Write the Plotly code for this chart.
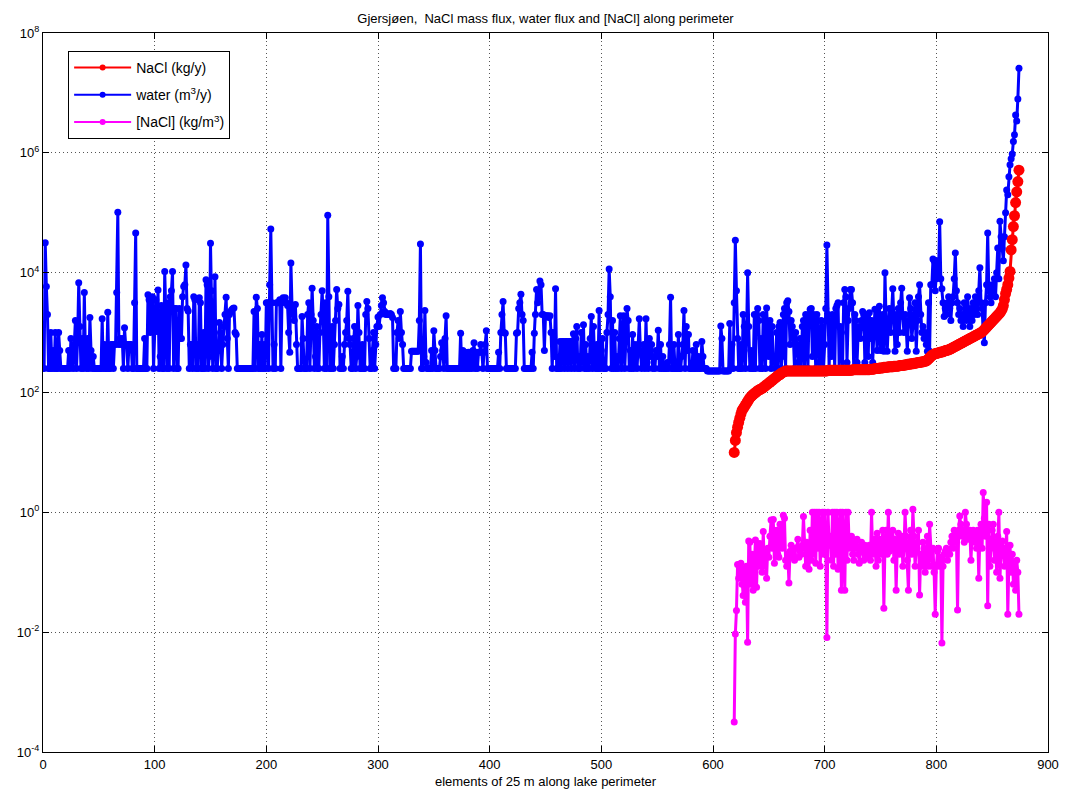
import plotly.graph_objects as go

# ---------------- data (log10 values) ----------------
water_log10 = [
    2.4, 4.5, 3.77, 3.3, 2.4, 2.4, 3.0, 2.4, 2.7, 2.4,
    3.0, 2.4, 2.4, 3.0, 2.7, 2.4, 2.4, 2.4, 2.4, 2.4,
    2.4, 2.4, 2.7, 2.4, 2.9, 2.7, 2.4, 2.8, 3.2, 2.4,
    2.9, 3.83, 3.1, 2.4, 2.9, 2.4, 3.67, 2.6, 2.4, 2.9,
    2.4, 3.25, 2.7, 2.4, 2.6, 2.4, 2.4, 2.4, 2.4, 2.4,
    2.4, 2.4, 3.23, 2.4, 2.8, 2.4, 2.4, 3.34, 2.4, 2.4,
    2.8, 2.8, 2.4, 2.8, 2.8, 3.67, 5.01, 2.8, 2.9, 2.8,
    2.9, 2.4, 3.08, 2.8, 2.8, 2.4, 2.8, 2.8, 2.8, 2.4,
    2.4, 3.5, 4.66, 2.4, 2.4, 2.4, 2.4, 2.4, 2.4, 2.4,
    2.9, 2.4, 2.4, 3.63, 3.55, 3.0, 3.5, 3.6, 2.4, 3.1,
    3.55, 3.02, 3.71, 2.4, 2.6, 3.45, 2.4, 2.4, 4.02, 3.3,
    2.4, 3.5, 2.4, 3.6, 3.7, 4.02, 2.4, 3.4, 3.4, 2.4,
    2.4, 3.4, 2.9, 2.9, 3.6, 3.77, 3.8, 4.13, 3.4, 3.36,
    2.4, 2.8, 2.8, 2.4, 3.6, 3.55, 2.4, 2.8, 2.4, 3.58,
    3.5, 2.4, 2.4, 3.0, 2.4, 3.88, 3.8, 2.4, 2.6, 4.49,
    3.7, 2.4, 3.0, 3.93, 2.4, 2.4, 2.7, 3.17, 3.0, 2.4,
    2.8, 3.1, 3.3, 3.59, 2.9, 2.4, 3.3, 3.35, 3.38, 3.4,
    3.41, 3.0, 2.97, 2.4, 2.4, 2.4, 2.4, 2.4, 2.4, 2.4,
    2.4, 2.4, 2.4, 2.4, 2.4, 2.4, 2.4, 2.4, 3.35, 2.4,
    3.59, 3.4, 2.4, 2.8, 2.4, 2.97, 2.4, 2.8, 2.4, 3.5,
    3.5, 2.4, 3.8, 4.73, 3.5, 2.4, 2.8, 2.4, 3.5, 3.5,
    3.5, 3.55, 2.4, 3.5, 3.58, 3.55, 3.58, 3.5, 3.45, 3.0,
    2.67, 4.16, 3.45, 3.3, 3.2, 3.47, 2.8, 2.4, 2.4, 2.4,
    2.4, 3.27, 2.9, 2.4, 2.4, 2.4, 3.3, 3.5, 2.4, 3.3,
    3.74, 3.2, 2.4, 2.6, 3.1, 2.4, 2.4, 3.0, 3.3, 3.7,
    3.2, 2.4, 3.5, 2.4, 4.96, 3.6, 2.4, 2.4, 3.1, 2.4,
    2.8, 3.2, 3.72, 3.4, 3.47, 2.4, 2.4, 2.6, 2.4, 2.8,
    3.0, 3.2, 3.69, 2.9, 2.8, 2.4, 2.4, 2.9, 3.1, 2.4,
    2.6, 3.45, 3.0, 2.4, 2.4, 2.8, 2.4, 2.4, 3.3, 3.52,
    3.4, 2.9, 2.4, 2.4, 2.7, 3.0, 2.4, 2.8, 3.1, 3.26,
    3.1, 3.3, 3.45, 3.58, 3.5, 3.35, 3.3, 3.32, 3.3, 3.3,
    3.32, 3.3, 3.25, 2.4, 2.4, 2.4, 3.0, 3.2, 2.9, 3.35,
    3.0, 2.8, 2.4, 2.4, 2.4, 2.4, 2.4, 2.4, 2.4, 2.69,
    2.69, 2.69, 2.69, 2.69, 2.69, 2.69, 3.2, 4.48, 2.4, 2.4,
    2.6, 3.37, 2.5, 2.4, 2.4, 2.4, 2.4, 2.7, 2.4, 3.03,
    2.7, 2.4, 2.4, 2.4, 2.4, 2.6, 2.83, 2.7, 2.4, 2.9,
    3.28, 2.4, 2.4, 2.4, 2.4, 2.4, 2.4, 2.4, 2.4, 2.4,
    2.4, 2.4, 2.4, 2.99, 2.4, 2.7, 2.4, 2.67, 2.4, 2.4,
    2.67, 2.4, 2.6, 2.4, 2.7, 2.83, 2.4, 2.67, 2.4, 2.67,
    2.67, 2.8, 2.67, 2.4, 2.67, 2.8, 3.03, 2.4, 2.4, 2.4,
    2.4, 2.4, 2.4, 2.4, 2.4, 2.4, 2.4, 2.67, 2.4, 3.0,
    3.3, 3.52, 3.0, 2.99, 2.4, 2.4, 2.4, 2.4, 2.4, 2.4,
    2.4, 2.4, 2.4, 2.99, 3.0, 3.4, 3.5, 3.64, 3.3, 3.2,
    2.4, 2.4, 2.4, 2.4, 2.4, 2.4, 2.4, 2.67, 2.4, 2.99,
    3.3, 3.72, 3.5, 3.6, 3.86, 3.8, 3.3, 3.3, 2.7, 3.28,
    3.28, 3.28, 3.25, 3.28, 3.0, 2.4, 3.0, 2.6, 3.73, 2.4,
    2.4, 2.4, 2.85, 2.4, 2.85, 2.85, 2.4, 2.85, 2.85, 2.4,
    2.85, 2.85, 2.4, 2.85, 2.98, 2.4, 2.9, 3.1, 2.4, 2.6,
    2.4, 3.0, 2.5, 3.13, 2.4, 2.8, 2.4, 2.6, 2.4, 2.9,
    3.27, 2.4, 3.1, 2.5, 2.4, 2.8, 2.4, 3.37, 2.4, 2.7,
    2.9, 2.4, 2.4, 2.4, 3.0, 3.3, 4.06, 3.6, 2.4, 3.2,
    2.4, 3.0, 2.4, 2.6, 2.4, 2.9, 3.28, 2.4, 3.0, 3.28,
    2.4, 2.9, 3.4, 3.2, 2.4, 2.7, 2.4, 2.97, 2.4, 2.8,
    2.6, 2.4, 2.8, 3.23, 2.7, 2.4, 2.6, 2.8, 2.4, 3.23,
    2.5, 2.4, 2.9, 2.6, 2.8, 2.4, 2.6, 2.4, 2.7, 2.6,
    3.04, 2.4, 2.8, 2.4, 2.6, 2.4, 2.4, 2.4, 2.5, 2.4,
    2.8, 3.59, 2.4, 2.4, 2.8, 2.4, 2.4, 2.4, 2.97, 2.4,
    2.4, 2.6, 2.8, 3.37, 2.4, 3.1, 2.7, 2.97, 2.4, 2.4,
    2.4, 2.7, 2.4, 2.4, 2.8, 2.4, 2.6, 2.4, 2.4, 2.85,
    2.6, 2.4, 2.4, 2.4, 2.36, 2.36, 2.36, 2.36, 2.36, 2.36,
    2.36, 2.36, 2.36, 2.36, 2.36, 2.36, 3.11, 2.9, 2.36, 2.36,
    2.36, 2.36, 2.36, 2.36, 3.15, 2.4, 2.8, 2.4, 3.5, 4.54,
    3.7, 2.9, 2.4, 2.4, 2.8, 2.4, 3.3, 3.1, 2.4, 2.9,
    4.0, 3.1, 2.4, 2.7, 2.4, 2.4, 3.3, 2.4, 3.3, 3.4,
    3.2, 2.4, 2.9, 2.4, 3.3, 3.2, 2.4, 3.41, 3.1, 2.6,
    3.2, 2.4, 3.1, 2.5, 2.6, 2.4, 3.0, 2.4, 3.1, 3.17,
    2.4, 2.6, 3.3, 3.4, 2.4, 3.5, 3.53, 3.35, 2.8, 3.2,
    3.1, 2.9, 2.4, 3.0, 2.8, 2.5, 2.4, 2.9, 2.4, 3.1,
    3.2, 2.4, 3.3, 3.23, 2.4, 3.3, 3.39, 3.4, 2.6, 3.3,
    3.0, 2.4, 3.3, 3.2, 2.5, 2.4, 3.2, 3.1, 2.4, 2.8,
    3.4, 4.46, 3.3, 2.4, 3.2, 2.6, 3.3, 3.1, 2.4, 3.4,
    3.45, 3.5, 2.4, 3.1, 3.0, 2.4, 3.5, 3.72, 3.6, 2.5,
    3.2, 3.4, 3.72, 3.72, 3.5, 2.4, 3.3, 3.2, 2.5, 3.0,
    3.1, 2.9, 3.2, 3.35, 3.3, 2.5, 3.1, 3.3, 2.6, 3.33,
    2.9, 3.2, 2.5, 3.0, 3.39, 3.1, 2.7, 3.3, 3.44, 2.7,
    3.1, 3.3, 2.69, 4.0, 3.2, 2.69, 3.1, 3.4, 3.0, 3.3,
    3.73, 3.2, 2.69, 3.3, 2.8, 3.4, 3.0, 3.5, 3.74, 3.27,
    3.0, 3.3, 3.1, 2.69, 3.2, 3.58, 3.4, 2.9, 3.1, 3.3,
    3.5, 2.69, 3.2, 3.6, 3.8, 3.3, 3.0, 3.1, 2.9, 3.0,
    2.8, 2.69, 3.5, 2.69, 3.8, 3.8, 4.23, 4.2, 3.7, 3.9,
    4.2, 4.0, 4.85, 3.9, 3.73, 3.5, 3.27, 3.4, 3.3, 3.5,
    3.6, 3.4, 3.2, 3.5, 3.6, 3.9, 4.33, 3.7, 3.5, 3.3,
    3.4, 3.2, 3.3, 3.1, 3.5, 3.3, 3.2, 3.6, 3.3, 3.1,
    3.4, 3.2, 3.5, 3.3, 3.6, 3.4, 3.3, 3.7, 4.08, 3.5,
    3.4, 3.0, 2.83, 3.5, 3.8, 4.66, 3.7, 3.6, 3.5, 3.8,
    3.7, 3.9, 3.6, 4.0, 4.41, 3.9, 4.86, 4.6, 4.4, 4.2,
    4.6, 5.0, 5.38, 5.3, 5.6, 5.8, 5.9, 5.98, 6.19, 6.3,
    6.63, 6.53, 6.9, 7.41,
]

nacl_start = 619
nacl_log10 = [
    1.00, 1.20, 1.33, 1.42, 1.50, 1.57, 1.64, 1.70, 1.73, 1.76,
    1.79, 1.82, 1.85, 1.88, 1.91, 1.93, 1.95, 1.97, 1.98, 2.00,
    2.01, 2.03, 2.04, 2.05, 2.06, 2.07, 2.08, 2.10, 2.11, 2.13,
    2.14, 2.16, 2.17, 2.19, 2.20, 2.22, 2.23, 2.25, 2.26, 2.28,
    2.29, 2.30, 2.32, 2.33, 2.34, 2.35, 2.36, 2.36, 2.36, 2.36,
    2.36, 2.36, 2.36, 2.36, 2.36, 2.36, 2.36, 2.36, 2.36, 2.36,
    2.36, 2.36, 2.36, 2.36, 2.36, 2.36, 2.36, 2.36, 2.36, 2.36,
    2.36, 2.36, 2.36, 2.36, 2.36, 2.36, 2.36, 2.36, 2.36, 2.36,
    2.36, 2.36, 2.36, 2.36, 2.37, 2.37, 2.37, 2.37, 2.37, 2.37,
    2.37, 2.37, 2.37, 2.37, 2.37, 2.37, 2.37, 2.37, 2.37, 2.37,
    2.37, 2.37, 2.37, 2.37, 2.37, 2.37, 2.38, 2.38, 2.38, 2.38,
    2.38, 2.38, 2.38, 2.38, 2.38, 2.38, 2.38, 2.38, 2.38, 2.38,
    2.38, 2.38, 2.39, 2.39, 2.39, 2.39, 2.40, 2.40, 2.40, 2.40,
    2.41, 2.41, 2.41, 2.41, 2.42, 2.42, 2.42, 2.42, 2.43, 2.43,
    2.43, 2.43, 2.43, 2.44, 2.44, 2.44, 2.44, 2.44, 2.45, 2.45,
    2.45, 2.45, 2.46, 2.46, 2.46, 2.47, 2.47, 2.47, 2.48, 2.48,
    2.48, 2.49, 2.49, 2.49, 2.50, 2.50, 2.50, 2.51, 2.51, 2.51,
    2.52, 2.52, 2.53, 2.54, 2.56, 2.58, 2.60, 2.62, 2.63, 2.64,
    2.65, 2.65, 2.66, 2.66, 2.67, 2.67, 2.68, 2.68, 2.69, 2.70,
    2.70, 2.71, 2.71, 2.72, 2.73, 2.74, 2.75, 2.76, 2.77, 2.78,
    2.79, 2.80, 2.81, 2.82, 2.83, 2.84, 2.85, 2.86, 2.87, 2.88,
    2.89, 2.90, 2.91, 2.92, 2.93, 2.94, 2.95, 2.96, 2.97, 2.98,
    2.99, 3.00, 3.01, 3.03, 3.05, 3.07, 3.09, 3.11, 3.13, 3.15,
    3.17, 3.19, 3.21, 3.23, 3.25, 3.27, 3.29, 3.31, 3.33, 3.36,
    3.39, 3.45, 3.55, 3.65, 3.72, 3.80, 3.91, 4.02, 4.38, 4.55,
    4.77, 4.95, 5.17, 5.35, 5.52, 5.71,
]

conc_log10 = [
    -3.50, -2.03, -1.64, -0.87, -1.10, -0.90, -0.85, -1.20, -1.39, -0.95,
    -1.50, -0.90, -2.17, -0.48, -0.50, -1.20, -0.70, -1.30, -0.80, -0.46,
    -1.25, -0.60, -0.90, -0.52, -0.80, -1.00, -0.32, -0.90, -0.70, -1.10,
    -0.60, -0.75, -0.40, -0.13, -0.60, -0.12, -0.85, -0.50, -0.30, -0.70,
    -0.75, -0.20, -0.40, -0.60, -0.05, -0.10, -0.80, -0.90, -0.70, -1.18,
    -0.65, -0.55, -0.75, -0.70, -0.80, -0.60, -0.59, -0.45, -0.75, -0.65,
    -0.70, -0.55, -0.07, -0.60, -0.90, -0.50, -0.75, -0.95, -0.30, -0.80,
    0.00, -0.70, 0.00, -0.85, 0.00, -0.60, 0.00, -0.90, -0.40, 0.00,
    -0.70, 0.00, -0.60, -2.09, 0.00, -0.55, -0.40, -0.80, 0.00, -0.90,
    0.00, -0.70, 0.00, -0.95, -0.50, 0.00, -1.30, 0.00, -0.60, -1.30,
    0.00, -0.80, 0.00, -0.60, -0.50, -0.40, -0.70, -0.80, -0.50, -0.60,
    -0.45, -0.70, -0.85, -0.60, -0.50, -0.65, -0.80, -0.55, -0.60, -0.75,
    -0.70, -0.55, -0.80, 0.00, -0.70, -0.60, -0.45, -0.90, -0.35, -0.80,
    -0.60, -0.45, -0.70, -0.30, -1.60, -0.55, -0.30, -0.70, 0.00, -0.65,
    -0.40, -0.60, -0.30, -0.80, -0.45, -1.30, -0.60, -0.35, -0.70, -0.50,
    -0.40, -0.90, -0.60, 0.00, -0.40, -0.80, -1.30, -0.50, -0.30, -0.70,
    0.05, -0.40, -0.90, -0.60, -0.50, -0.30, -1.38, -0.70, -0.90, -0.50,
    -0.60, -1.00, -0.80, -0.40, -0.90, -0.20, -0.70, -0.90, -0.60, -1.00,
    -1.70, -0.90, -0.65, -0.60, -0.90, -0.75, -2.18, -0.90, -0.70, -0.65,
    -0.60, -0.80, -0.62, -0.70, -0.50, -0.40, -0.60, -0.30, -0.50, -0.40,
    -1.63, -0.30, -0.06, -0.20, -0.40, -0.30, -0.50, 0.00, -0.20, -0.40,
    -0.45, -0.30, -0.80, -0.40, -0.30, -0.50, -0.35, -0.60, -0.30, -1.10,
    -0.40, -0.20, -0.60, 0.33, -0.10, -0.40, 0.17, -1.56, -0.20, -0.90,
    -0.60, -0.30, -0.20, -0.80, -0.50, -1.00, -0.40, 0.00, -1.10, -0.60,
    -0.48, -0.70, -0.90, -0.60, -0.32, -1.70, -0.80, -0.55, -1.00, -0.70,
    -1.20, -0.90, -1.30, -0.80, -1.00, -1.70,
]

x_ticks = [0, 100, 200, 300, 400, 500, 600, 700, 800, 900]
y_ticks_exp = [-4, -2, 0, 2, 4, 6, 8]

title_text = "Gjersjøen,  NaCl mass flux, water flux and [NaCl] along perimeter"
x_title = "elements of 25 m along lake perimeter"
names = ["NaCl (kg/y)", "water (m<sup>3</sup>/y)", "[NaCl] (kg/m<sup>3</sup>)"]
colors = ["#FF0000", "#0000FF", "#FF00FF"]

# ---------------- build series ----------------
water_x = list(range(1, len(water_log10) + 1))
water_y = [10 ** v for v in water_log10]
nacl_x = list(range(nacl_start, nacl_start + len(nacl_log10)))
nacl_y = [10 ** v for v in nacl_log10]
conc_x = list(range(nacl_start, nacl_start + len(conc_log10)))
conc_y = [10 ** v for v in conc_log10]

fig = go.Figure()
fig.add_trace(go.Scatter(x=water_x, y=water_y, mode="lines+markers", showlegend=False,
                         line=dict(color=colors[1], width=3),
                         marker=dict(color=colors[1], size=7)))
fig.add_trace(go.Scatter(x=nacl_x, y=nacl_y, mode="lines+markers", showlegend=False,
                         line=dict(color=colors[0], width=3),
                         marker=dict(color=colors[0], size=11)))
fig.add_trace(go.Scatter(x=conc_x, y=conc_y, mode="lines+markers", showlegend=False,
                         line=dict(color=colors[2], width=3),
                         marker=dict(color=colors[2], size=7)))
# legend entries (thin line with a dot, as in the reference legend)
for i, (nm, col) in enumerate(zip(names, colors)):
    fig.add_trace(go.Scatter(x=[None], y=[None], mode="lines+markers", name=nm,
                             legendgroup="g%d" % i, legendrank=i + 1,
                             line=dict(color=col, width=2),
                             marker=dict(color=col, size=6)))

font_family = "Liberation Sans, Arial, sans-serif"
grid_dash = "1px,3px"
fig.update_layout(
    width=1076, height=800,
    margin=dict(l=43, r=28, t=33, b=48),
    paper_bgcolor="white", plot_bgcolor="white",
    font=dict(family=font_family, size=13, color="black"),
    title=dict(text=title_text, x=(43 + 1048) / 2 / 1076, xanchor="center",
               y=1 - 18 / 800, yanchor="middle", font=dict(size=13)),
    showlegend=True,
    legend=dict(x=0.025, y=0.975, xanchor="left", yanchor="top",
                bgcolor="white", bordercolor="black", borderwidth=1,
                font=dict(size=14), tracegroupgap=6, itemwidth=57),
)
fig.update_xaxes(range=[0, 900], tickvals=x_ticks, ticktext=[str(v) for v in x_ticks],
                 showline=True, linecolor="black", linewidth=1, mirror="ticks",
                 ticks="inside", ticklen=6, tickcolor="black",
                 showgrid=True, gridcolor="#555555", griddash=grid_dash, gridwidth=1,
                 zeroline=False, title=dict(text=x_title, standoff=6, font=dict(size=13)))
fig.update_yaxes(type="log", range=[-4, 8],
                 tickvals=[10 ** e for e in y_ticks_exp],
                 ticktext=["10<sup>%d</sup>" % e for e in y_ticks_exp],
                 showline=True, linecolor="black", linewidth=1, mirror="ticks",
                 ticks="inside", ticklen=6, tickcolor="black",
                 showgrid=True, gridcolor="#555555", griddash=grid_dash, gridwidth=1,
                 zeroline=False)

fig.write_html("out.html")
